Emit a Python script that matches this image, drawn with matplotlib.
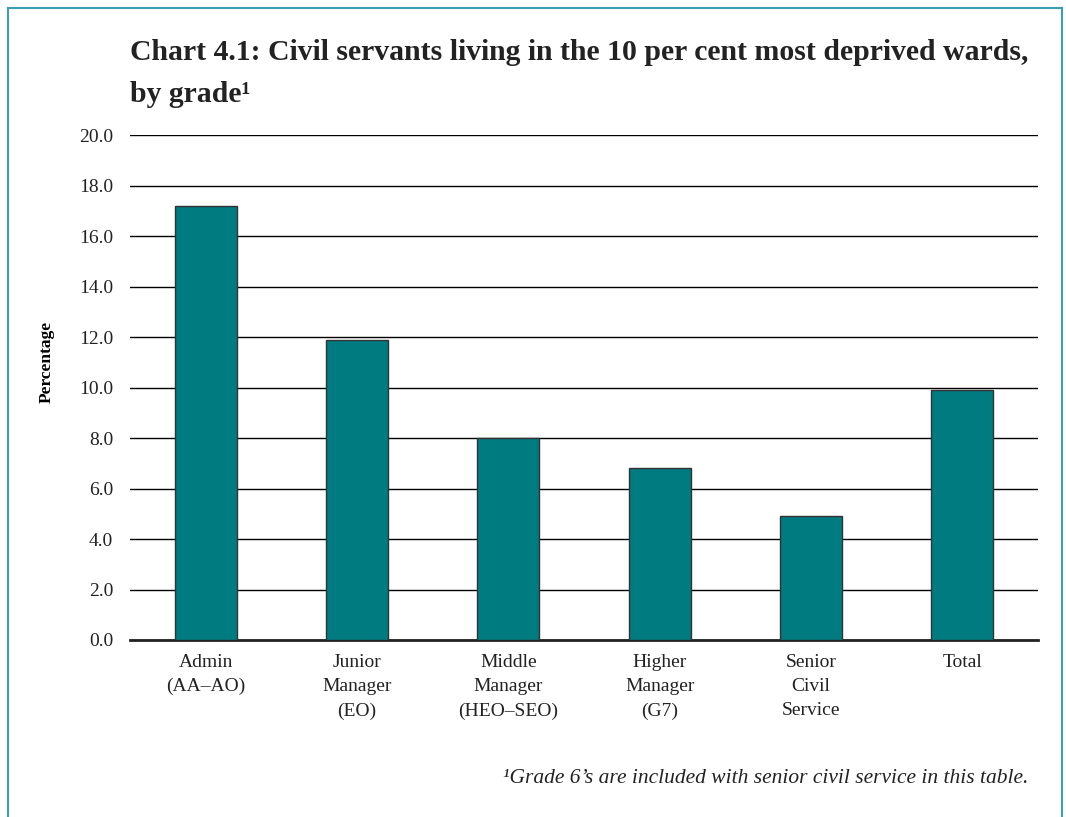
import numpy as np
import matplotlib.pyplot as plt
from matplotlib.lines import Line2D

categories = ["Admin\n(AA\u2013AO)", "Junior\nManager\n(EO)", "Middle\nManager\n(HEO\u2013SEO)",
              "Higher\nManager\n(G7)", "Senior\nCivil\nService", "Total"]
values = [17.2, 11.9, 8.0, 6.8, 4.9, 9.9]
yticks = np.arange(0, 20.1, 2.0)

plt.rcParams['font.family'] = ['Liberation Serif', 'DejaVu Serif']

W, H = 1066, 817
fig = plt.figure(figsize=(W / 100, H / 100), dpi=100)
ax = fig.add_axes([130 / W, 1 - 640 / H, 908 / W, 505 / H])

x = np.arange(len(categories))
ax.bar(x, values, width=0.41, color="#007b80", edgecolor="#333333", linewidth=1.0, zorder=3)

ax.set_xlim(-0.5, len(categories) - 0.5)
ax.set_ylim(0, 20)
ax.set_yticks(yticks)
ax.set_yticklabels(["%.1f" % v for v in yticks], fontsize=14, color="#222222")
ax.yaxis.grid(True, color="black", linewidth=1.0, zorder=1)
ax.set_xticks(x)
ax.set_xticklabels(categories, fontsize=14, color="#222222", linespacing=1.55, va="top")
ax.tick_params(axis="both", length=0)
ax.tick_params(axis="y", pad=12)
ax.tick_params(axis="x", pad=10)
for s in ["left", "right", "top"]:
    ax.spines[s].set_visible(False)
ax.spines["bottom"].set_linewidth(2.0)
ax.spines["bottom"].set_color("#222222")

ax.set_ylabel("Percentage", fontsize=12.5, fontweight="bold")
ax.yaxis.set_label_coords(-0.083, 0.55)

fig.text(130 / W, 1 - 60 / H, "Chart 4.1: Civil servants living in the 10 per cent most deprived wards,",
         fontsize=21.4, fontweight="bold", color="#222222", va="baseline", ha="left")
fig.text(130 / W, 1 - 102 / H, "by grade\u00b9",
         fontsize=21.4, fontweight="bold", color="#222222", va="baseline", ha="left")

fig.text(1028 / W, 1 - 783 / H, "\u00b9Grade 6\u2019s are included with senior civil service in this table.",
         fontsize=15.5, style="italic", color="#222222", ha="right", va="baseline")

# teal frame
frame = "#3aa0b0"
fig.add_artist(Line2D([8 / W, 8 / W], [0, 1 - 8 / H], color=frame, linewidth=1.5))
fig.add_artist(Line2D([1062 / W, 1062 / W], [0, 1 - 8 / H], color=frame, linewidth=1.5))
fig.add_artist(Line2D([8 / W, 1062 / W], [1 - 8 / H, 1 - 8 / H], color=frame, linewidth=1.5))

fig.savefig("out.png", dpi=100)
